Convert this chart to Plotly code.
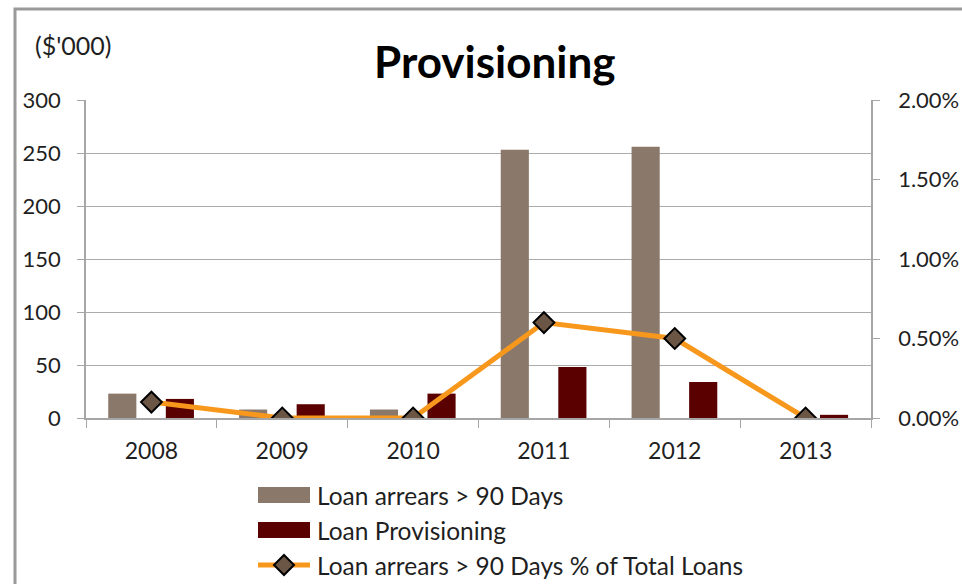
import plotly.graph_objects as go

years = ["2008", "2009", "2010", "2011", "2012", "2013"]
arrears = [23, 8, 8, 253, 256, 0]
provisioning = [18, 13, 23, 48, 34, 3]
arrears_pct = [0.0010, 0.0, 0.0, 0.0060, 0.0050, 0.0]

names = ["Loan arrears > 90 Days", "Loan Provisioning", "Loan arrears > 90 Days % of Total Loans"]
C_ARR, C_PROV, C_LINE, C_DIA = "#8A786B", "#5A0000", "#F7981D", "#6B5646"

FONT = "Lato"
TXT = "#1F1F1F"

# plot-area geometry in pixels (for positioning annotations / legend)
L, R, T, B = 86, 871, 100, 418
W, H = 962, 584


def px(x):
    return (x - L) / (R - L)


def py(y):
    return 1 - (y - T) / (B - T)


fig = go.Figure()
fig.add_trace(go.Bar(
    x=years, y=arrears, name=names[0],
    marker=dict(color=C_ARR, line=dict(width=0)),
    width=0.215, offset=-0.33, showlegend=False,
))
fig.add_trace(go.Bar(
    x=years, y=provisioning, name=names[1],
    marker=dict(color=C_PROV, line=dict(width=0)),
    width=0.215, offset=0.11, showlegend=False,
))
fig.add_trace(go.Scatter(
    x=years, y=arrears_pct, name=names[2],
    yaxis="y2", mode="lines+markers",
    line=dict(color=C_LINE, width=5),
    marker=dict(symbol="diamond", size=16, color=C_DIA,
                line=dict(color="#000000", width=2)),
    showlegend=False,
))

fig.update_layout(
    width=W, height=H,
    margin=dict(l=L, r=W - R, t=T, b=H - B, autoexpand=False),
    paper_bgcolor="white", plot_bgcolor="white",
    font=dict(family=FONT, size=22, color=TXT),
    barmode="overlay",
    showlegend=False,
    xaxis=dict(type="category", showline=True, linecolor="#A6A6A6", linewidth=1.5,
               ticks="outside", tickson="boundaries", ticklen=8, tickcolor="#A6A6A6",
               showgrid=False, tickfont=dict(size=23, color=TXT), ticklabelstandoff=12),
    yaxis=dict(range=[0, 300], dtick=50, showline=True, linecolor="#A6A6A6", linewidth=1.5,
               ticks="outside", ticklen=7, tickcolor="#A6A6A6",
               showgrid=True, gridcolor="#ABABAB", gridwidth=1.3, zeroline=False,
               tickfont=dict(size=22, color=TXT), ticklabelstandoff=12),
    yaxis2=dict(range=[0, 0.02], dtick=0.005, tickformat=".2%", overlaying="y", side="right",
                showline=True, linecolor="#A6A6A6", linewidth=1.5,
                ticks="outside", ticklen=7, tickcolor="#A6A6A6",
                showgrid=False, zeroline=False, tickfont=dict(size=22, color=TXT),
                ticklabelstandoff=14),
)

fig.add_annotation(text="<b>Provisioning</b>", xref="paper", yref="paper",
                   x=px(494), y=py(61), xanchor="center", yanchor="middle",
                   showarrow=False, font=dict(size=44, color="#000000", family=FONT))
fig.add_annotation(text="($'000)", xref="paper", yref="paper",
                   x=px(33), y=py(45), xanchor="left", yanchor="middle",
                   showarrow=False, font=dict(size=25, color=TXT, family=FONT))

# outer chart border
fig.add_shape(type="rect", xref="paper", yref="paper",
              x0=px(15), x1=px(1000), y0=py(640), y1=py(9),
              line=dict(color="#9A9A9A", width=3), fillcolor="rgba(0,0,0,0)", layer="below")

# manual legend (wide Excel-style swatches)
rows = [495, 530, 565]
sx0, sx1, tx = 258, 310, 315
for i, yc in enumerate(rows):
    if i < 2:
        col = [C_ARR, C_PROV][i]
        fig.add_shape(type="rect", xref="paper", yref="paper",
                      x0=px(sx0), x1=px(sx1), y0=py(yc + 8), y1=py(yc - 8),
                      line=dict(width=0), fillcolor=col)
    else:
        fig.add_shape(type="line", xref="paper", yref="paper",
                      x0=px(sx0), x1=px(sx1), y0=py(yc), y1=py(yc),
                      line=dict(color=C_LINE, width=5))
        cx, d = 284, 10
        path = "M {} {} L {} {} L {} {} L {} {} Z".format(
            px(cx), py(yc - d), px(cx + d), py(yc), px(cx), py(yc + d), px(cx - d), py(yc))
        fig.add_shape(type="path", xref="paper", yref="paper", path=path,
                      fillcolor=C_DIA, line=dict(color="#000000", width=2))
    fig.add_annotation(text=names[i], xref="paper", yref="paper",
                       x=px(tx), y=py(yc), xanchor="left", yanchor="middle",
                       showarrow=False, font=dict(size=24.5, color=TXT, family=FONT))

fig.write_html("out.html")
